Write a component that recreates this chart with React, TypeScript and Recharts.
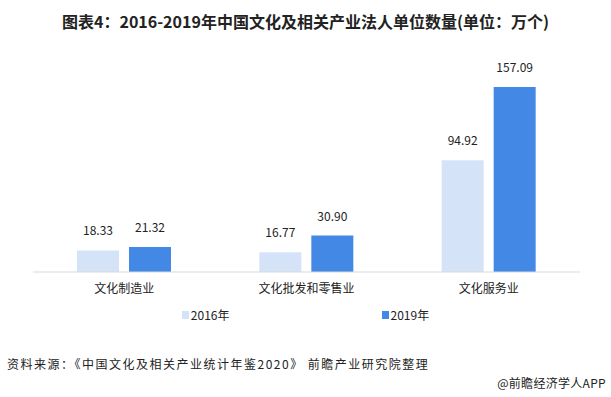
import { BarChart, Bar, XAxis, YAxis, Legend, LabelList } from "recharts";

const categories = ["文化制造业", "文化批发和零售业", "文化服务业"];
const y2016 = [18.33, 16.77, 94.92];
const y2019 = [21.32, 30.9, 157.09];
const seriesNames = ["2016年", "2019年"];

const data = categories.map((name, i) => ({
  name,
  a: y2016[i],
  b: y2019[i],
}));

const FONT = "'Noto Sans CJK SC', 'Microsoft YaHei', sans-serif";
const LIGHT = "#d5e3f8";
const DARK = "#4288e4";

const renderLegend = (props: any) => {
  const items = props.payload || [];
  return (
    <div style={{ display: "flex", justifyContent: "center", gap: 152, fontFamily: FONT }}>
      {items.map((it: any) => (
        <div key={it.value} style={{ display: "flex", alignItems: "center", fontSize: 12, color: "#222" }}>
          <span style={{ width: 7, height: 8, background: it.color, display: "inline-block", marginRight: 2 }} />
          {it.value}
        </div>
      ))}
    </div>
  );
};

export default function App() {
  return (
    <div style={{ position: "absolute", left: 0, top: 0, width: 611, height: 397, background: "#fff", fontFamily: FONT }}>
      <div
        style={{
          position: "absolute",
          top: 9,
          left: 0,
          width: 611,
          textAlign: "center",
          fontSize: 16,
          fontWeight: "bold",
          color: "#222",
        }}
      >
        图表4：2016-2019年中国文化及相关产业法人单位数量(单位：万个)
      </div>
      <BarChart
        width={611}
        height={397}
        data={data}
        margin={{ top: 60, right: 31, left: 33, bottom: 78 }}
        barGap={10}
        barSize={42}
      >
        <XAxis
          dataKey="name"
          height={30}
          tickLine={false}
          tickMargin={6}
          axisLine={{ stroke: "#d9d9d9" }}
          tick={{ fontSize: 12, fill: "#222", fontFamily: FONT }}
        />
        <YAxis hide domain={[0, 180]} />
        <Legend
          content={renderLegend}
          wrapperStyle={{ position: "absolute", top: 306, left: 0, width: 611 }}
        />
        <Bar dataKey="a" name={seriesNames[0]} fill={LIGHT} isAnimationActive={false}>
          <LabelList
            dataKey="a"
            position="top"
            offset={15}
            formatter={(v: any) => Number(v).toFixed(2)}
            style={{ fontSize: 12, fill: "#222", fontFamily: FONT }}
          />
        </Bar>
        <Bar dataKey="b" name={seriesNames[1]} fill={DARK} isAnimationActive={false}>
          <LabelList
            dataKey="b"
            position="top"
            offset={15}
            formatter={(v: any) => Number(v).toFixed(2)}
            style={{ fontSize: 12, fill: "#222", fontFamily: FONT }}
          />
        </Bar>
      </BarChart>
      <div style={{ position: "absolute", left: 7, top: 355, fontSize: 12, color: "#222", letterSpacing: 1.5 }}>
        资料来源：《中国文化及相关产业统计年鉴2020》 前瞻产业研究院整理
      </div>
      <div style={{ position: "absolute", right: 5, top: 374, fontSize: 12, color: "#222", letterSpacing: 0.3 }}>
        @前瞻经济学人APP
      </div>
    </div>
  );
}
